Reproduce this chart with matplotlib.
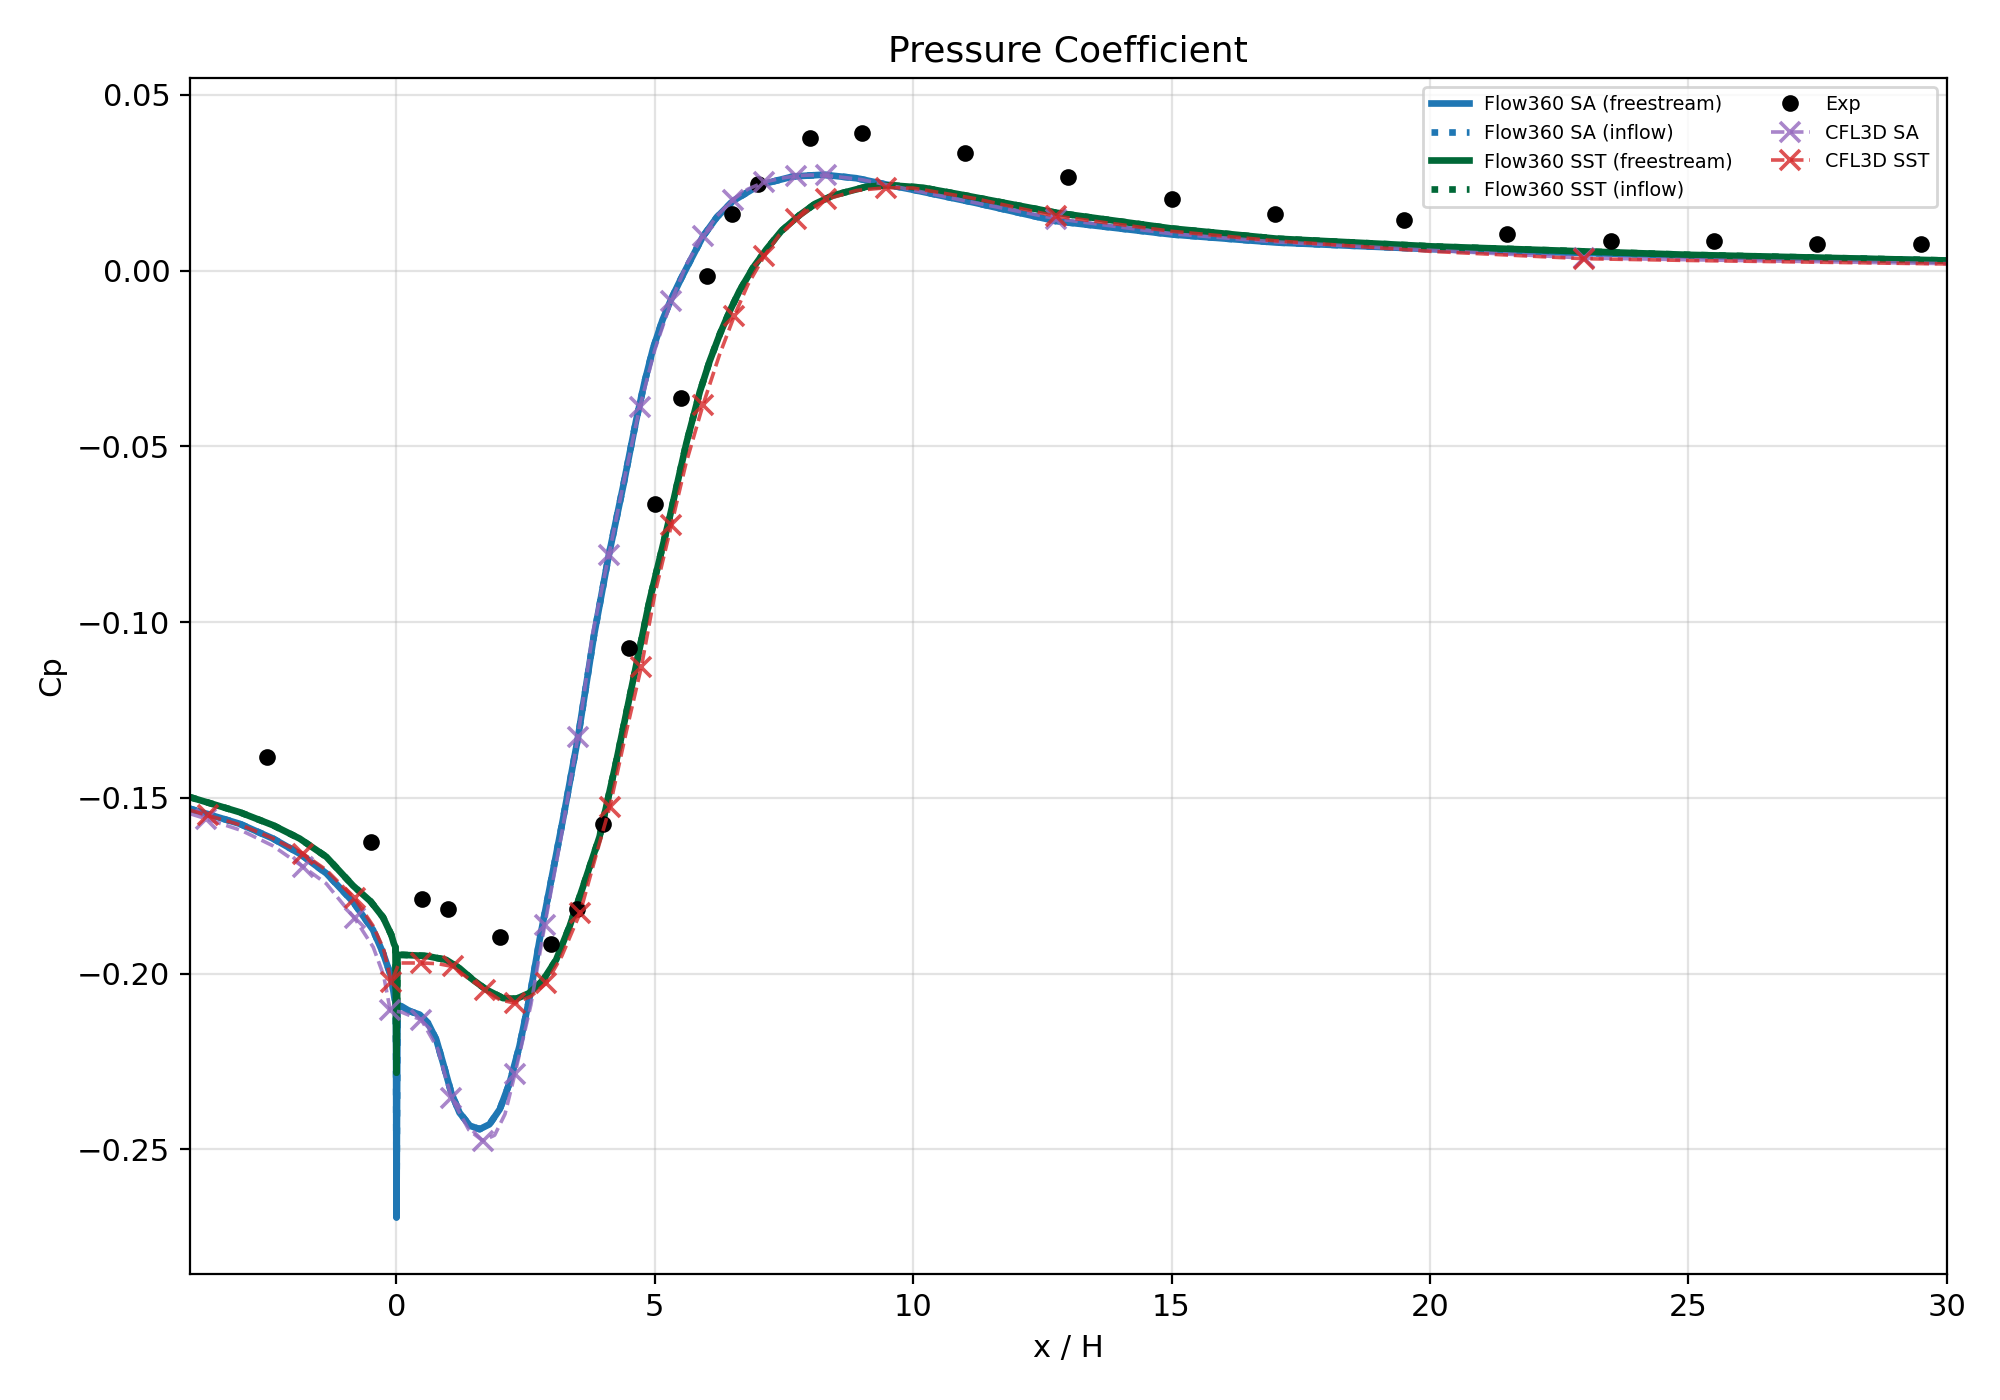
#!/usr/bin/env python3
"""Pressure coefficient along the wall: Flow360 vs CFL3D vs experiment"""

import numpy as np
import matplotlib
matplotlib.use("Agg")
import matplotlib.pyplot as plt

# Flow360 SA (freestream / inflow curves coincide)
x_sa = [-4.0, -3.035, -2.39, -1.874, -1.357, -0.841, -0.454, -0.26, -0.1, -0.035,
        -0.01, 0.0, 0.02, 0.095, 0.255, 0.45, 0.61, 0.77, 0.9, 1.06,
        1.22, 1.42, 1.61, 1.8, 2.0, 2.19, 2.38, 2.58, 2.77, 2.97,
        3.22, 3.51, 3.82, 4.11, 4.385, 4.64, 4.8, 4.965, 5.15, 5.32,
        5.5, 5.675, 5.93, 6.2, 6.51, 7.03, 7.675, 8.26, 8.9, 9.48,
        10.0, 11.2, 12.76, 15.0, 17.03, 20.04, 25.0, 30.0]
cp_sa = [-0.1531, -0.1574, -0.1616, -0.1659, -0.1715, -0.1796, -0.1876, -0.1942, -0.2010, -0.2074,
         -0.2080, -0.2694, -0.2090, -0.2093, -0.2107, -0.2117, -0.2141, -0.2188, -0.2254, -0.2339,
         -0.2396, -0.2433, -0.2443, -0.2429, -0.2386, -0.2311, -0.2207, -0.2065, -0.1904, -0.1753,
         -0.1563, -0.1331, -0.1040, -0.0809, -0.0615, -0.0425, -0.0318, -0.0222, -0.0140, -0.0080,
         -0.0025, 0.0025, 0.0097, 0.0152, 0.0198, 0.0244, 0.0268, 0.0273, 0.0263, 0.0245,
         0.0230, 0.0193, 0.0141, 0.0103, 0.0080, 0.0061, 0.0043, 0.0028]
x_sa_inflow = x_sa
cp_sa_inflow = cp_sa

# Flow360 SST
x_sst = [-4.0, -3.035, -2.39, -1.874, -1.357, -0.841, -0.5, -0.26, -0.1, -0.05,
         -0.02, 0.0, 0.02, 0.13, 0.58, 0.96, 1.22, 1.48, 1.74, 2.06,
         2.32, 2.58, 2.84, 3.09, 3.35, 3.61, 3.93, 4.26, 4.58, 4.9,
         5.29, 5.61, 5.87, 6.06, 6.26, 6.45, 6.64, 6.9, 7.16, 7.45,
         7.8, 8.1, 8.45, 9.1, 9.55, 10.19, 10.9, 12.76, 15.0, 17.03,
         20.04, 25.0, 30.0]
cp_sst = [-0.1498, -0.1541, -0.1578, -0.1616, -0.1668, -0.1750, -0.1795, -0.1840, -0.1890, -0.1915,
          -0.1925, -0.2282, -0.1947, -0.1947, -0.1950, -0.1961, -0.1985, -0.2018, -0.2046, -0.2070,
          -0.2072, -0.2055, -0.2018, -0.1961, -0.1866, -0.1753, -0.1611, -0.1392, -0.1165, -0.0937,
          -0.0700, -0.0491, -0.0345, -0.0258, -0.0180, -0.0115, -0.0057, 0.0008, 0.0061, 0.0113,
          0.0158, 0.0190, 0.0214, 0.0239, 0.0243, 0.0236, 0.0217, 0.0165, 0.0120, 0.0091,
          0.0069, 0.0045, 0.0029]
x_sst_inflow = x_sst
cp_sst_inflow = cp_sst

# Experiment
x_exp = [-2.5, -0.5, 0.5, 1.0, 2.0, 3.0, 3.5, 4.0, 4.5, 5.0, 5.5, 6.0, 6.5,
         7.0, 8.0, 9.0, 11.0, 13.0, 15.0, 17.0, 19.5, 21.5, 23.5, 25.5, 27.5, 29.5]
cp_exp = [-0.1383, -0.1625, -0.1789, -0.1817, -0.1897, -0.1917, -0.1817, -0.1575, -0.1073,
          -0.0664, -0.0363, -0.0015, 0.0161, 0.0247, 0.0378, 0.0393, 0.0335, 0.0266,
          0.0203, 0.0162, 0.0144, 0.0104, 0.0085, 0.0085, 0.0076, 0.0076]

# CFL3D SA
x_cfl_sa = [-4.0, -3.68, -3.0, -2.4, -1.81, -1.36, -0.81, -0.45, -0.25, -0.12,
            0.1, 0.3, 0.48, 0.8, 1.06, 1.4, 1.67, 1.9, 2.1, 2.29,
            2.6, 2.87, 3.2, 3.51, 3.8, 4.11, 4.4, 4.71, 5.0, 5.32,
            5.62, 5.93, 6.2, 6.51, 6.8, 7.12, 7.45, 7.74, 8.0, 8.32,
            9.0, 10.0, 11.2, 12.76, 15.0, 17.0, 20.0, 22.98, 25.0, 30.0]
cp_cfl_sa = [-0.1545, -0.1560, -0.1593, -0.1636, -0.1696, -0.1744, -0.1843, -0.1925, -0.2005, -0.2105,
             -0.2110, -0.2122, -0.2131, -0.2215, -0.2353, -0.2445, -0.2476, -0.2460, -0.2400, -0.2287,
             -0.2090, -0.1862, -0.1600, -0.1327, -0.1030, -0.0809, -0.0600, -0.0387, -0.0225, -0.0086,
             0.0020, 0.0099, 0.0155, 0.0202, 0.0232, 0.0252, 0.0263, 0.0270, 0.0272, 0.0271,
             0.0259, 0.0229, 0.0193, 0.0148, 0.0105, 0.0082, 0.0058, 0.0036, 0.0031, 0.0020]
mark_cfl_sa = [-3.68, -1.81, -0.81, -0.12, 0.48, 1.06, 1.67, 2.29, 2.87, 3.51,
               4.11, 4.71, 5.32, 5.93, 6.51, 7.12, 7.74, 8.32, 12.76, 22.98]

# CFL3D SST
x_cfl_sst = [-4.0, -3.65, -3.0, -2.4, -1.81, -1.36, -0.81, -0.45, -0.25, -0.1,
             0.05, 0.48, 0.8, 1.09, 1.4, 1.71, 2.0, 2.29, 2.6, 2.9,
             3.2, 3.55, 3.85, 4.13, 4.45, 4.74, 5.0, 5.32, 5.6, 5.93,
             6.25, 6.54, 6.8, 7.12, 7.4, 7.74, 8.0, 8.32, 8.9, 9.48,
             10.0, 11.2, 12.76, 15.0, 17.0, 20.0, 22.98, 25.0, 30.0]
cp_cfl_sst = [-0.1535, -0.1550, -0.1578, -0.1615, -0.1659, -0.1705, -0.1786, -0.1865, -0.1930, -0.2025,
              -0.1970, -0.1970, -0.1972, -0.1980, -0.2015, -0.2046, -0.2075, -0.2084, -0.2065, -0.2027,
              -0.1950, -0.1829, -0.1670, -0.1525, -0.1310, -0.1127, -0.0920, -0.0724, -0.0550, -0.0383,
              -0.0240, -0.0128, -0.0040, 0.0042, 0.0100, 0.0146, 0.0175, 0.0203, 0.0228, 0.0236,
              0.0235, 0.0205, 0.0155, 0.0112, 0.0085, 0.0055, 0.0034, 0.0029, 0.0019]
mark_cfl_sst = [-3.65, -1.81, -0.81, -0.1, 0.48, 1.09, 1.71, 2.29, 2.9, 3.55,
                4.13, 4.74, 5.32, 5.93, 6.54, 7.12, 7.74, 8.32, 9.48, 12.76, 22.98]

# Colors
c_sa = '#1f77b4'
c_sst = '#006837'
c_cfl_sa = '#9467bd'
c_cfl_sst = '#d62728'

fig = plt.figure(figsize=(10, 7), dpi=200)
ax = fig.add_axes([0.0949, 0.09, 0.8784, 0.8545])

ax.plot(x_sa, cp_sa, '-', color=c_sa, lw=2.4, label='Flow360 SA (freestream)')
ax.plot(x_sa_inflow, cp_sa_inflow, ':', color=c_sa, lw=2.4, label='Flow360 SA (inflow)')
ax.plot(x_sst, cp_sst, '-', color=c_sst, lw=2.4, label='Flow360 SST (freestream)')
ax.plot(x_sst_inflow, cp_sst_inflow, ':', color=c_sst, lw=2.4, label='Flow360 SST (inflow)')

ax.plot(x_exp, cp_exp, 'o', color='black', ms=5, label='Exp')

ax.plot(x_cfl_sa, cp_cfl_sa, '--', color=c_cfl_sa, alpha=0.8, lw=1.3,
        marker='x', ms=7, mew=1.3,
        markevery=list(np.isin(x_cfl_sa, mark_cfl_sa)), label='CFL3D SA')
ax.plot(x_cfl_sst, cp_cfl_sst, '--', color=c_cfl_sst, alpha=0.8, lw=1.3,
        marker='x', ms=7, mew=1.3,
        markevery=list(np.isin(x_cfl_sst, mark_cfl_sst)), label='CFL3D SST')

ax.set_xlim(-4, 30)
ax.set_ylim(-0.2855, 0.0549)
ax.set_xlabel('x / H', fontsize=11)
ax.set_ylabel('Cp', fontsize=11)
ax.set_title('Pressure Coefficient', fontsize=13)
ax.tick_params(labelsize=11)
ax.grid(True, alpha=0.35)
ax.legend(loc='upper right', ncol=2, fontsize=6.9)

fig.savefig('out.png', dpi=200)
